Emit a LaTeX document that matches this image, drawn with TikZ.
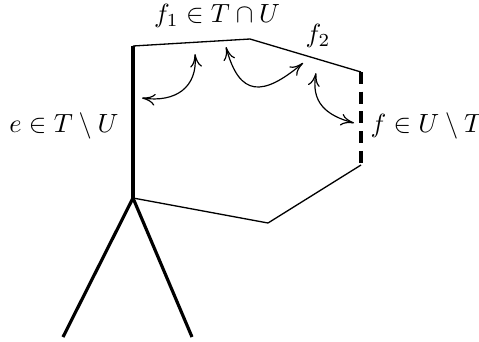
\documentclass[tikz,border=0pt]{standalone}
\usetikzlibrary{arrows.meta}
\begin{document}
\begin{tikzpicture}[x=0.38pt,y=-0.38pt,
  thinedge/.style={line width=0.5pt},
  thickedge/.style={line width=1.2pt},
  dashedge/.style={line width=1.2pt,dash pattern=on 4.5pt off 3pt},
  swap/.style={{To[length=5pt,width=4.5pt]}-{To[length=5pt,width=4.5pt]},line width=0.45pt},
  lbl/.style={inner sep=0pt}]
\useasboundingbox (0,0) rectangle (479,341);
\coordinate (A) at (133,46);
\coordinate (B) at (250,39);
\coordinate (C) at (361,72);
\coordinate (D) at (361,165);
\coordinate (E) at (268,223);
\coordinate (F) at (133,198);
\coordinate (L1) at (63,337);
\coordinate (L2) at (192,337);
\draw[thickedge] (A) -- (F);
\draw[thickedge] (F) -- (L1);
\draw[thickedge] (F) -- (L2);
\draw[thinedge] (A) -- (B);
\draw[thinedge] (B) -- (C);
\draw[dashedge] (C) -- (D);
\draw[thinedge] (D) -- (E);
\draw[thinedge] (E) -- (F);
\coordinate (p1) at (142,98);
\coordinate (q1) at (195,54);
\coordinate (p2) at (226,47);
\coordinate (q2) at (303,63);
\coordinate (p3) at (316,73);
\coordinate (q3) at (354,123);
\draw[swap] (p1) to[out=-8,in=-85,looseness=1.25] (q1);
\draw[swap] (p2) to[out=-75,in=-140,looseness=1.7] (q2);
\draw[swap] (p3) to[out=-100,in=165,looseness=1.2] (q3);
\node[lbl] (l1) at (217,16) {$f_1\in T\cap U$};
\node[lbl] (l2) at (318,36) {$f_2$};
\node[lbl,anchor=east] (l3) at (119,126) {$e\in T\setminus U$};
\node[lbl,anchor=west] (l4) at (370,126) {$f\in U\setminus T$};
\end{tikzpicture}
\end{document}
